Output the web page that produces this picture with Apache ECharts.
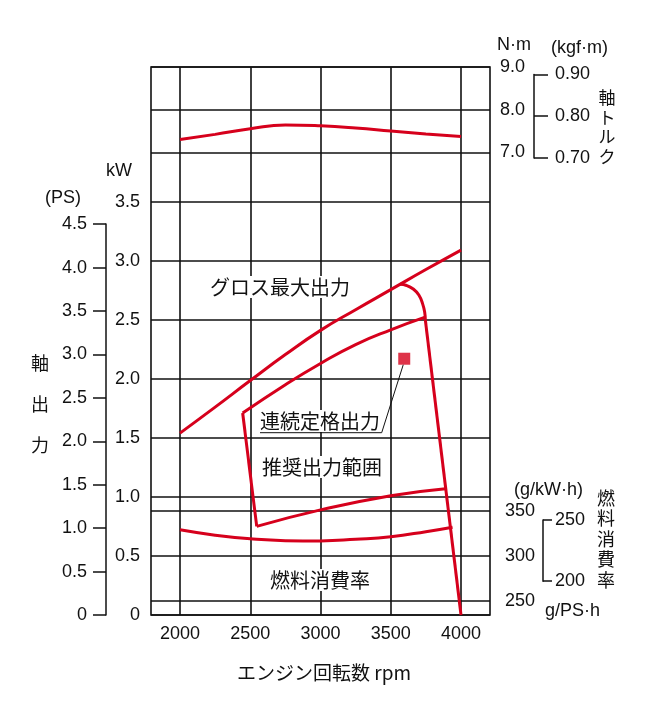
<!DOCTYPE html>
<html>
<head>
<meta charset="utf-8">
<script src="https://cdn.jsdelivr.net/npm/echarts@6/dist/echarts.min.js"></script>
<style>
html,body{margin:0;padding:0;background:#fff;}
#chart{width:648px;height:720px;}
</style>
</head>
<body>
<div id="chart"></div>
<script>
/* ---------- ticks ---------- */
const rpmTicks    = [2000, 2500, 3000, 3500, 4000];
const kwTicks     = [0, 0.5, 1.0, 1.5, 2.0, 2.5, 3.0, 3.5];
const psTicks     = [0, 0.5, 1.0, 1.5, 2.0, 2.5, 3.0, 3.5, 4.0, 4.5];
const torqueTicks = [7.0, 8.0, 9.0];
const kgfTicks    = [0.70, 0.80, 0.90];
const fuelTicks   = [250, 300, 350];
const fuelPsTicks = [200, 250];

/* ---------- curves: [rpm, value] ---------- */
// torque, N·m
const torqueNm = [[2000,7.30],[2250,7.42],[2500,7.55],[2750,7.64],[3000,7.62],[3250,7.57],[3500,7.50],[3750,7.43],[4000,7.37]];
// gross max output, kW
const grossKw = [[2000,1.54],[2250,1.76],[2500,1.985],[2750,2.205],[3000,2.41],[3250,2.585],[3500,2.755],[3750,2.925],[4000,3.09]];
// governor droop from gross curve down to the rated line
const droopKw = [[3566,2.80],[3613,2.79],[3660,2.76],[3700,2.71],[3728,2.63],[3742,2.56],[3746,2.50]];
// continuous rated output, kW
const ratedKw = [[2446,1.71],[2750,1.95],[3000,2.13],[3250,2.29],[3500,2.415],[3740,2.52]];
// recommended range edges, kW
const leftEdgeKw   = [[2446,1.71],[2546,0.75]];
const bottomEdgeKw = [[2546,0.75],[3000,0.89],[3500,1.01],[3890,1.07]];
const rightEdgeKw  = [[3746,2.50],[4000,0]];
// rated point
const ratedPoint = [3596, 2.17];
// fuel consumption, g/kW·h
const fuelGkwh = [[2000,329],[2250,323],[2500,319],[2750,317],[3000,316.7],[3250,318.5],[3500,321.4],[3750,327],[3940,332]];

/* ---------- layout ---------- */
const BOX = {left:151, top:67, width:339, height:548};
const BOTTOM = BOX.top + BOX.height;
const RPM_PAD = 29;          // box edge to the 2000/4000 lines
const KW_PX = 118.1;         // px per kW
const NM_PX = 42.65;         // px per N·m
const FUEL_PX = 0.9;         // px per g/kW·h
const PS_PER_KW = 1.35962;
const KGF = 9.80665;

const RED = '#d6001c';
const INK = '#111';
const NUM_FONT = '"Liberation Sans", Arial, sans-serif';
const JP_FONT = '"Noto Sans CJK JP", sans-serif';

const first = a => a[0], last = a => a[a.length - 1];
const rpmMin = first(rpmTicks), rpmMax = last(rpmTicks);
const rpmPerPx = (rpmMax - rpmMin) / (BOX.width - 2 * RPM_PAD);
const wideMin = rpmMin - RPM_PAD * rpmPerPx;
const wideMax = rpmMax + RPM_PAD * rpmPerPx;

const kwMax = last(kwTicks), tqMax = last(torqueTicks), tqMin = first(torqueTicks);
const fuelMax = last(fuelTicks), fuelMin = first(fuelTicks);
const psMax = last(psTicks);
// 300 g/kW·h shares its line with 0.5 kW
const FUEL_TOP = BOTTOM - kwTicks[1] * KW_PX - (fuelMax - fuelTicks[1]) * FUEL_PX;

const grids = [
  // 0 outer box
  {left:BOX.left, top:BOX.top, width:BOX.width, height:BOX.height, show:true, borderColor:INK, borderWidth:1.6},
  // 1 torque
  {left:BOX.left, top:BOX.top, width:BOX.width, height:(tqMax - tqMin) * NM_PX},
  // 2 power kW
  {left:BOX.left, top:BOTTOM - kwMax * KW_PX, width:BOX.width, height:kwMax * KW_PX},
  // 3 fuel
  {left:BOX.left, top:FUEL_TOP, width:BOX.width, height:(fuelMax - fuelMin) * FUEL_PX},
  // 4 rpm lines
  {left:BOX.left + RPM_PAD, top:BOX.top, width:BOX.width - 2 * RPM_PAD, height:BOX.height},
  // 5 PS scale
  {left:106, top:BOTTOM - psMax / PS_PER_KW * KW_PX, width:1, height:psMax / PS_PER_KW * KW_PX},
  // 6 kgf·m scale
  {left:534, top:BOX.top + (tqMax - last(kgfTicks) * KGF) * NM_PX, width:1,
   height:(last(kgfTicks) - first(kgfTicks)) * KGF * NM_PX},
  // 7 g/PS·h scale
  {left:543, top:FUEL_TOP + (fuelMax - last(fuelPsTicks) * PS_PER_KW) * FUEL_PX, width:1,
   height:(last(fuelPsTicks) - first(fuelPsTicks)) * PS_PER_KW * FUEL_PX}
];

const hiddenX = (gi, min, max) => ({type:'value', gridIndex:gi, min, max, show:false});
const numLabel = (extra) => Object.assign({color:INK, fontSize:18, fontFamily:NUM_FONT}, extra);
const gridLine = {show:true, lineStyle:{color:INK, width:1.6}};

const xAxes = [
  hiddenX(0, wideMin, wideMax),
  hiddenX(1, wideMin, wideMax),
  hiddenX(2, wideMin, wideMax),
  hiddenX(3, wideMin, wideMax),
  {type:'value', gridIndex:4, min:rpmMin, max:rpmMax, interval:rpmTicks[1] - rpmTicks[0],
   axisLine:{show:false}, axisTick:{show:false}, splitLine:gridLine,
   axisLabel:numLabel({margin:10, formatter:v => String(v)})},
  hiddenX(5, 0, 1), hiddenX(6, 0, 1), hiddenX(7, 0, 1)
];

const scaleAxis = (gi, ticks, pos, tickLen, margin, fmt) => ({
  type:'value', gridIndex:gi, position:pos,
  min:first(ticks), max:last(ticks), interval:ticks[1] - ticks[0],
  axisLine:{show:true, lineStyle:{color:INK, width:1.5}},
  axisTick:{show:true, length:tickLen, lineStyle:{color:INK, width:1.5}},
  splitLine:{show:false},
  axisLabel:numLabel({margin, formatter:fmt})
});

const fmt1 = v => v === 0 ? '0' : v.toFixed(1);

const yAxes = [
  {type:'value', gridIndex:0, min:0, max:1, show:false},
  {type:'value', gridIndex:1, position:'right', min:tqMin, max:tqMax, interval:torqueTicks[1] - torqueTicks[0],
   axisLine:{show:false}, axisTick:{show:false}, splitLine:gridLine,
   axisLabel:numLabel({margin:10, formatter:v => v.toFixed(1)})},
  {type:'value', gridIndex:2, position:'left', min:0, max:kwMax, interval:kwTicks[1] - kwTicks[0],
   axisLine:{show:false}, axisTick:{show:false}, splitLine:gridLine,
   axisLabel:numLabel({margin:11, formatter:fmt1})},
  // middle fuel line already drawn by the 0.5 kW line
  {type:'value', gridIndex:3, position:'right', min:fuelMin, max:fuelMax, interval:fuelTicks[1] - fuelTicks[0],
   axisLine:{show:false}, axisTick:{show:false},
   splitLine:{show:true, lineStyle:{color:[INK, 'rgba(0,0,0,0)', INK], width:1.6}},
   axisLabel:numLabel({margin:15})},
  {type:'value', gridIndex:4, min:0, max:1, show:false},
  scaleAxis(5, psTicks, 'left', 13, 19, fmt1),
  scaleAxis(6, kgfTicks, 'right', 14, 20, v => v.toFixed(2)),
  scaleAxis(7, fuelPsTicks, 'right', 9, 11, v => String(v))
];

const curve = (data, gi, smooth) => ({
  type:'line', data, xAxisIndex:gi, yAxisIndex:gi, symbol:'none',
  smooth, clip:false, silent:true, z:3,
  lineStyle:{color:RED, width:3}
});

const series = [
  curve(torqueNm, 1, 0.5),
  curve(grossKw, 2, 0.5),
  curve(droopKw, 2, 0.5),
  curve(ratedKw, 2, 0.5),
  curve(leftEdgeKw, 2, false),
  curve(bottomEdgeKw, 2, 0.5),
  curve(rightEdgeKw, 2, false),
  curve(fuelGkwh, 3, 0.5),
  {type:'scatter', data:[ratedPoint], xAxisIndex:2, yAxisIndex:2, symbol:'rect', symbolSize:12,
   itemStyle:{color:RED}, silent:true, z:4}
];

const chart = echarts.init(document.getElementById('chart'), null, {renderer:'canvas'});
chart.setOption({
  animation:false,
  backgroundColor:'#fff',
  grid:grids, xAxis:xAxes, yAxis:yAxes, series
});

/* ---------- texts ---------- */
const txt = (text, x, y, o) => ({
  type:'text', x, y, z:10, silent:true,
  style:Object.assign({text, fill:INK, font:'18px ' + NUM_FONT, align:'left', verticalAlign:'middle'}, o || {})
});
const jp = (size) => size + 'px ' + JP_FONT;
const boxed = {backgroundColor:'#fff', padding:[1, 1]};

const sq = chart.convertToPixel({xAxisIndex:2, yAxisIndex:2}, ratedPoint);

chart.setOption({
  graphic:[
    txt('kW', 119, 171, {align:'center'}),
    txt('(PS)', 63, 198, {align:'center'}),
    txt('軸\n出\n力', 40, 404, {align:'center', font:jp(18), lineHeight:41}),
    txt('N·m', 497, 45),
    txt('(kgf·m)', 551, 48),
    txt('軸\nト\nル\nク', 607, 127, {align:'center', font:jp(17), lineHeight:19.5}),
    txt('(g/kW·h)', 514, 490),
    txt('燃\n料\n消\n費\n率', 606, 539, {align:'center', font:jp(18), lineHeight:20.5}),
    txt('g/PS·h', 545, 611),
    txt('グロス最大出力', 209, 287, Object.assign({font:jp(20)}, boxed)),
    txt('連続定格出力', 259, 421, Object.assign({font:jp(20)}, boxed)),
    txt('推奨出力範囲', 261, 467, Object.assign({font:jp(20)}, boxed)),
    txt('燃料消費率', 269, 580, Object.assign({font:jp(20)}, boxed)),
    txt('エンジン回転数 rpm', 237, 673, {font:jp(19)}),
    {type:'polyline', z:11, silent:true,
     shape:{points:[[260, 432.7], [381.7, 432.7], [sq[0] - 1, sq[1] + 6]]},
     style:{stroke:INK, lineWidth:1, fill:null}}
  ]
});
</script>
</body>
</html>
